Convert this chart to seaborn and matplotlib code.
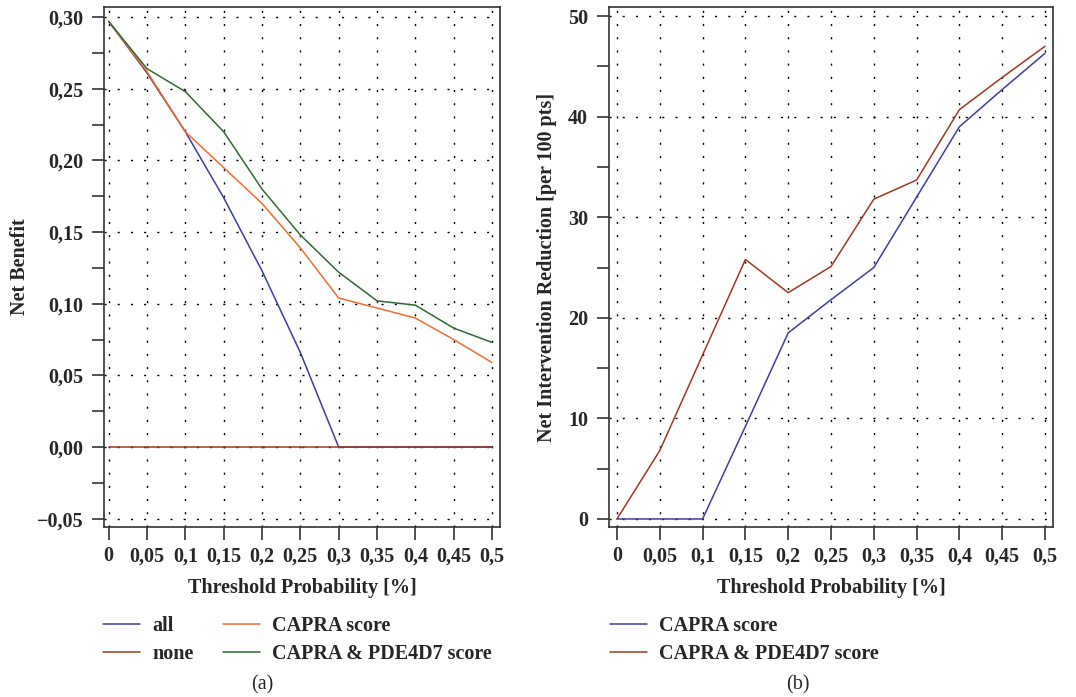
import numpy as np
import pandas as pd
import matplotlib
matplotlib.use("Agg")
import matplotlib.pyplot as plt
from matplotlib.ticker import FixedLocator, FuncFormatter
import seaborn as sns

# threshold probabilities
thresholds = [0, 0.05, 0.1, 0.15, 0.2, 0.25, 0.3, 0.35, 0.4, 0.45, 0.5]
tick_labels = ["0", "0,05", "0,1", "0,15", "0,2", "0,25", "0,3", "0,35", "0,4", "0,45", "0,5"]

# (a) net benefit
nb_all = [0.297, 0.261, 0.220, 0.174, 0.123, 0.066, 0.0, 0.0, 0.0, 0.0, 0.0]
nb_none = [0, 0, 0, 0, 0, 0, 0, 0, 0, 0, 0]
nb_capra = [0.297, 0.262, 0.220, 0.195, 0.170, 0.139, 0.104, 0.097, 0.090, 0.075, 0.059]
nb_capra_pde = [0.297, 0.264, 0.248, 0.220, 0.180, 0.148, 0.122, 0.102, 0.099, 0.083, 0.073]

# (b) net intervention reduction per 100 pts
nir_capra = [0, 0, 0, 9.2, 18.5, 21.8, 25.0, 32.0, 39.0, 42.7, 46.3]
nir_capra_pde = [0, 6.8, 16.3, 25.8, 22.5, 25.1, 31.8, 33.7, 40.7, 43.9, 47.0]

c_blue = "#3b3f9c"
c_red = "#9a3a22"
c_orange = "#f36c2b"
c_green = "#2f6a30"

sns.set_style("white")
plt.rcParams["font.family"] = ["Liberation Serif", "DejaVu Serif"]
plt.rcParams["font.size"] = 14.5

fig = plt.figure(figsize=(10.76, 6.97), dpi=100)
ax1 = fig.add_axes([0.0967, 0.2439, 0.368, 0.746])
ax2 = fig.add_axes([0.566, 0.2439, 0.4126, 0.746])

left = pd.DataFrame({
    "x": thresholds * 4,
    "y": nb_all + nb_none + nb_capra + nb_capra_pde,
    "s": ["all"] * 11 + ["none"] * 11 + ["CAPRA score"] * 11 + ["CAPRA & PDE4D7 score"] * 11,
})
right = pd.DataFrame({
    "x": thresholds * 2,
    "y": nir_capra + nir_capra_pde,
    "s": ["CAPRA score"] * 11 + ["CAPRA & PDE4D7 score"] * 11,
})

sns.lineplot(data=left, x="x", y="y", hue="s", ax=ax1, linewidth=1.1,
             palette={"all": c_blue, "none": c_red, "CAPRA score": c_orange,
                      "CAPRA & PDE4D7 score": c_green},
             hue_order=["all", "CAPRA score", "CAPRA & PDE4D7 score", "none"])
sns.lineplot(data=right, x="x", y="y", hue="s", ax=ax2, linewidth=1.1,
             palette={"CAPRA score": c_blue, "CAPRA & PDE4D7 score": c_red})

def comma(v, pos):
    return f"{v:.2f}".replace(".", ",").replace("-", "\u2212")

dots = (0, (1.5, 8))
for ax in (ax1, ax2):
    ax.set_xticks(thresholds)
    ax.set_xticklabels(tick_labels, fontweight="bold")
    ax.grid(True, which="major", linestyle=dots, color="black", linewidth=1.0)
    for sp in ax.spines.values():
        sp.set_color("#333333")
        sp.set_linewidth(1.2)
    ax.tick_params(axis="both", direction="out", length=9, width=1.2, color="#333333",
                   bottom=True, left=True, labelsize=14.5)
    ax.tick_params(axis="x", pad=5)
    ax.tick_params(axis="y", pad=6)
    ax.tick_params(which="minor", direction="out", length=9, width=1.2, color="#333333", left=True)
    ax.set_xlabel("Threshold Probability [%]", fontweight="bold", fontsize=14.5, labelpad=8)
    ax.get_legend().remove()

ax1.set_xlim(-0.006, 0.5105)
ax1.set_ylim(-0.0558, 0.307)
ax1.set_yticks([-0.05, 0, 0.05, 0.10, 0.15, 0.20, 0.25, 0.30])
ax1.yaxis.set_major_formatter(FuncFormatter(comma))
ax1.yaxis.set_minor_locator(FixedLocator([-0.025, 0.025, 0.075, 0.125, 0.175, 0.225, 0.275]))
ax1.set_ylabel("Net Benefit", fontweight="bold", fontsize=14.5, labelpad=5)

ax2.set_xlim(-0.0093, 0.5093)
ax2.set_ylim(-0.8, 50.9)
ax2.set_yticks([0, 10, 20, 30, 40, 50])
ax2.yaxis.set_minor_locator(FixedLocator([5, 15, 25, 35, 45]))
ax2.set_ylabel("Net Intervention Reduction [per 100 pts]", fontweight="bold", fontsize=14.5, labelpad=8)

for ax in (ax1, ax2):
    for lab in ax.get_yticklabels():
        lab.set_fontweight("bold")

# legends
h1, l1 = ax1.get_legend_handles_labels()
hmap = dict(zip(l1, h1))
order = ["all", "none", "CAPRA score", "CAPRA & PDE4D7 score"]
fig.legend([hmap[k] for k in order], order, ncol=2, loc="upper left",
           bbox_to_anchor=(103 / 1076, 1 - 616 / 697), frameon=False, borderpad=0,
           borderaxespad=0, handlelength=1.85, columnspacing=1.45,
           labelspacing=0.38, handletextpad=0.6,
           prop={"weight": "bold", "size": 14.5})
h2, l2 = ax2.get_legend_handles_labels()
fig.legend(h2, l2, loc="upper left", bbox_to_anchor=(610 / 1076, 1 - 616 / 697),
           frameon=False, borderpad=0, borderaxespad=0,
           handlelength=1.85, labelspacing=0.38, handletextpad=0.6,
           prop={"weight": "bold", "size": 14.5})

fig.text(262 / 1076, 1 - 685 / 697, "(a)", ha="center", va="center", fontsize=14.5)
fig.text(798 / 1076, 1 - 685 / 697, "(b)", ha="center", va="center", fontsize=14.5)

fig.savefig("out.png", dpi=100)
